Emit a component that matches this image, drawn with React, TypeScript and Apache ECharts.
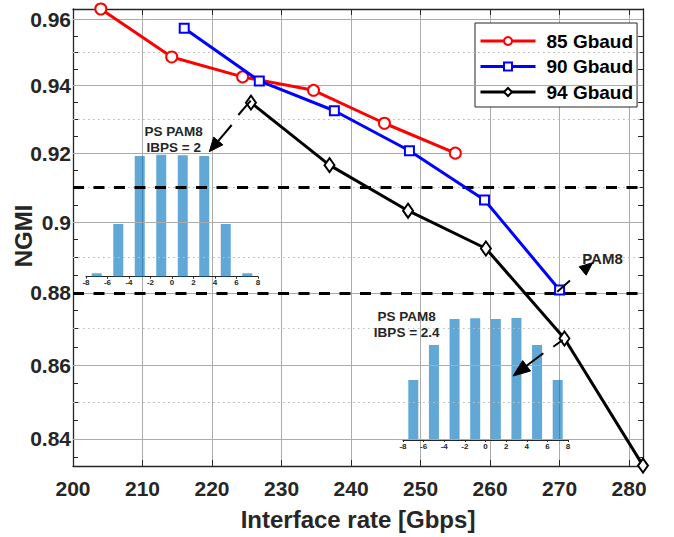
import React, { useEffect, useRef } from "react";
import * as echarts from "echarts";

// ---- data ----
const rate85 = [204.0, 214.2, 224.4, 234.6, 244.8, 255.0];
const ngmi85 = [0.9632, 0.9486, 0.9426, 0.9386, 0.9288, 0.92];
const rate90 = [216.0, 226.8, 237.6, 248.4, 259.2, 270.0];
const ngmi90 = [0.9573, 0.9414, 0.9325, 0.9207, 0.9064, 0.8808];
const rate94 = [225.6, 236.9, 248.2, 259.4, 270.7, 282.0];
const ngmi94 = [0.9349, 0.9165, 0.9033, 0.8925, 0.8673, 0.8329];

const seriesNames = ["85 Gbaud", "90 Gbaud", "94 Gbaud"];

const yMajorTicks = [0.84, 0.86, 0.88, 0.9, 0.92, 0.94, 0.96];
const yMinorTicks = [
  0.835, 0.845, 0.85, 0.855, 0.865, 0.87, 0.875, 0.885, 0.89, 0.895, 0.905,
  0.91, 0.915, 0.925, 0.93, 0.935, 0.945, 0.95, 0.955,
];
const thresholds = [0.91, 0.88];

// inset histograms (PS PAM8 symbol probabilities, relative)
const pamLevels = [-7, -5, -3, -1, 1, 3, 5, 7];
const probIbps2 = [0.028, 0.432, 0.989, 1.0, 0.995, 0.989, 0.432, 0.028];
const probIbps24 = [0.492, 0.779, 0.992, 0.998, 0.992, 1.0, 0.779, 0.492];

const FONT = "'Liberation Sans', Arial, Helvetica, sans-serif";
const DARK = "#262626";

function arrowHead(sx: number, sy: number, tx: number, ty: number, len: number, w: number) {
  const dx = tx - sx;
  const dy = ty - sy;
  const l = Math.hypot(dx, dy);
  const ux = dx / l;
  const uy = dy / l;
  const bx = tx - ux * len;
  const by = ty - uy * len;
  return {
    points: [
      [tx, ty],
      [bx - uy * w / 2, by + ux * w / 2],
      [bx + uy * w / 2, by - ux * w / 2],
    ],
    base: [bx, by],
  };
}

export default function App() {
  const ref = useRef<HTMLDivElement>(null);
  useEffect(() => {
    if (!ref.current) return;
    const chart = echarts.init(ref.current, null, { renderer: "svg" });

    const a1 = arrowHead(231.7, 125, 209.3, 151.7, 14, 12);
    const a2 = arrowHead(557.3, 291.7, 592.7, 262.7, 13, 11);
    const a3 = arrowHead(543.3, 353.3, 513, 376, 17, 13);

    const segs: number[][][] = [
      [[250.7, 100.7], [238.3, 115]],
      [[231.7, 125], a1.base],
      [[557.3, 291.7], [570, 280.5]],
      [[562.7, 340], [553.3, 346.7]],
      [[543.3, 353.3], a3.base],
    ];

    const label = (t: string, x: number, y: number, size = 13.5) => ({
      type: "text",
      x,
      y,
      z: 20,
      style: {
        text: t,
        fill: DARK,
        font: `bold ${size}px ${FONT}`,
        lineHeight: 16,
        textAlign: "center",
        textVerticalAlign: "middle",
      },
    });

    const yLog = {
      type: "log",
      logBase: 10,
      min: 0.8328,
      max: 0.9632,
    };

    const option: any = {
      animation: false,
      backgroundColor: "#fff",
      textStyle: { fontFamily: FONT },
      grid: [
        { left: 73, top: 9, width: 570, height: 457, outerBoundsMode: "none", containLabel: false },
        { left: 86, top: 154.7, width: 172, height: 122, outerBoundsMode: "none", containLabel: false },
        { left: 403, top: 318, width: 165, height: 122, outerBoundsMode: "none", containLabel: false },
      ],
      legend: {
        orient: "vertical",
        left: 475,
        top: 23,
        data: seriesNames,
        itemWidth: 55,
        itemHeight: 10,
        itemGap: 5.5,
        padding: [8, 4, 5, 4],
        backgroundColor: "#fff",
        borderColor: DARK,
        borderWidth: 1,
        borderRadius: 0,
        lineStyle: { width: 3 },
        textStyle: {
          fontSize: 19,
          fontWeight: "bold",
          color: "#000",
          fontFamily: FONT,
          lineHeight: 20,
          padding: [0, 0, 0, 6],
        },
      },
      xAxis: [
        {
          type: "value",
          gridIndex: 0,
          min: 200,
          max: 282,
          interval: 10,
          position: "bottom",
          name: "Interface rate [Gbps]",
          nameLocation: "middle",
          nameGap: 41,
          nameMoveOverlap: false,
          nameTextStyle: { fontSize: 24, fontWeight: "bold", color: DARK, fontFamily: FONT },
          axisLine: { show: true, onZero: false, lineStyle: { color: DARK, width: 1.3 } },
          axisTick: { show: true, inside: true, length: 6, lineStyle: { color: DARK } },
          axisLabel: {
            fontSize: 21,
            fontWeight: "bold",
            color: DARK,
            margin: 12,
            fontFamily: FONT,
            showMaxLabel: false,
          },
          splitLine: { show: true, lineStyle: { color: "#ababab", width: 1 } },
        },
        {
          type: "value",
          gridIndex: 0,
          min: 200,
          max: 282,
          interval: 10,
          position: "top",
          axisLine: { show: true, onZero: false, lineStyle: { color: DARK, width: 1.3 } },
          axisTick: { show: true, inside: true, length: 6, lineStyle: { color: DARK } },
          axisLabel: { show: false },
          splitLine: { show: false },
        },
        {
          type: "value",
          gridIndex: 1,
          min: -8,
          max: 8,
          interval: 2,
          axisLine: { show: true, onZero: false, lineStyle: { color: DARK, width: 1 } },
          axisTick: { show: true, length: 2, lineStyle: { color: DARK } },
          axisLabel: { fontSize: 8, fontWeight: "bold", color: DARK, margin: 2, fontFamily: FONT },
          splitLine: { show: false },
        },
        {
          type: "value",
          gridIndex: 2,
          min: -8,
          max: 8,
          interval: 2,
          axisLine: { show: true, onZero: false, lineStyle: { color: DARK, width: 1 } },
          axisTick: { show: true, length: 2, lineStyle: { color: DARK } },
          axisLabel: { fontSize: 8, fontWeight: "bold", color: DARK, margin: 2, fontFamily: FONT },
          splitLine: { show: false },
        },
      ],
      yAxis: [
        {
          ...yLog,
          gridIndex: 0,
          position: "left",
          axisLine: { show: true, onZero: false, lineStyle: { color: DARK, width: 1.3 } },
          axisTick: {
            show: true,
            inside: true,
            length: 5,
            customValues: [...yMajorTicks, ...yMinorTicks],
            lineStyle: { color: DARK },
          },
          axisLabel: {
            customValues: yMajorTicks,
            fontSize: 21,
            fontWeight: "bold",
            color: DARK,
            margin: 2,
            fontFamily: FONT,
            formatter: (v: number) => String(Number(Number(v).toFixed(2))),
          },
          splitLine: { show: false },
        },
        {
          ...yLog,
          gridIndex: 0,
          position: "right",
          axisLine: { show: true, onZero: false, lineStyle: { color: DARK, width: 1.3 } },
          axisTick: {
            show: true,
            inside: true,
            length: 5,
            customValues: [...yMajorTicks, ...yMinorTicks],
            lineStyle: { color: DARK },
          },
          axisLabel: { show: false },
          splitLine: { show: false },
        },
        { type: "value", gridIndex: 1, min: 0, max: 1, show: false },
        { type: "value", gridIndex: 2, min: 0, max: 1, show: false },
      ],
      series: [
        {
          name: "grid-helper",
          type: "line",
          xAxisIndex: 0,
          yAxisIndex: 0,
          z: 1,
          data: [[200, 0.9]],
          showSymbol: false,
          lineStyle: { opacity: 0 },
          silent: true,
          markLine: {
            silent: true,
            symbol: "none",
            label: { show: false },
            animation: false,
            data: [
              ...yMinorTicks.map((v) => ({
                yAxis: v,
                lineStyle: { color: "#bdbdbd", width: 1, type: [1.5, 3.5] },
              })),
              ...yMajorTicks.map((v) => ({
                yAxis: v,
                lineStyle: { color: "#ababab", width: 1, type: "solid" },
              })),
              ...thresholds.map((v) => ({
                yAxis: v,
                lineStyle: { color: "#000", width: 3, type: [11, 9.5] },
              })),
            ],
          },
        },
        {
          name: "inset1",
          type: "bar",
          xAxisIndex: 2,
          yAxisIndex: 2,
          z: 3,
          barWidth: 10,
          data: pamLevels.map((x, i) => [x, probIbps2[i]]),
          itemStyle: { color: "rgba(0,114,189,0.62)" },
          silent: true,
        },
        {
          name: "inset2",
          type: "bar",
          xAxisIndex: 3,
          yAxisIndex: 3,
          z: 3,
          barWidth: 10,
          data: pamLevels.map((x, i) => [x, probIbps24[i]]),
          itemStyle: { color: "rgba(0,114,189,0.62)" },
          silent: true,
        },
        {
          name: seriesNames[0],
          type: "line",
          xAxisIndex: 0,
          yAxisIndex: 0,
          z: 5,
          clip: false,
          data: rate85.map((x, i) => [x, ngmi85[i]]),
          symbol: "emptyCircle",
          symbolSize: 11,
          lineStyle: { color: "#ff0000", width: 3 },
          itemStyle: { color: "#ff0000", borderWidth: 2.5 },
        },
        {
          name: seriesNames[1],
          type: "line",
          xAxisIndex: 0,
          yAxisIndex: 0,
          z: 6,
          clip: false,
          data: rate90.map((x, i) => [x, ngmi90[i]]),
          symbol: "emptyRect",
          symbolSize: 9,
          lineStyle: { color: "#0000ff", width: 3 },
          itemStyle: { color: "#0000ff", borderWidth: 3.5 },
        },
        {
          name: seriesNames[2],
          type: "line",
          xAxisIndex: 0,
          yAxisIndex: 0,
          z: 7,
          clip: false,
          data: rate94.map((x, i) => [x, ngmi94[i]]),
          symbol: "emptyDiamond",
          symbolSize: [10, 14],
          lineStyle: { color: "#000000", width: 3 },
          itemStyle: { color: "#000000", borderWidth: 3 },
        },
      ],
      graphic: [
        {
          type: "text",
          x: 23.5,
          y: 236,
          rotation: Math.PI / 2,
          z: 20,
          style: {
            text: "NGMI",
            fill: DARK,
            font: `bold 24px ${FONT}`,
            textAlign: "center",
            textVerticalAlign: "middle",
          },
        },
        label("PS PAM8\nIBPS = 2", 173.7, 139.3),
        label("PS PAM8\nIBPS = 2.4", 406.7, 324),
        label("PAM8", 602.5, 258.3, 15),
        ...segs.map((s) => ({
          type: "line",
          z: 20,
          shape: { x1: s[0][0], y1: s[0][1], x2: s[1][0], y2: s[1][1] },
          style: { stroke: "#000", lineWidth: 2 },
        })),
        ...[a1, a2, a3].map((a) => ({
          type: "polygon",
          z: 20,
          shape: { points: a.points },
          style: { fill: "#000", stroke: "#000", lineWidth: 1 },
        })),
      ],
    };

    chart.setOption(option);
    return () => chart.dispose();
  }, []);

  return (
    <div
      ref={ref}
      style={{ position: "fixed", left: 0, top: 0, width: 674, height: 537, background: "#fff" }}
    />
  );
}
